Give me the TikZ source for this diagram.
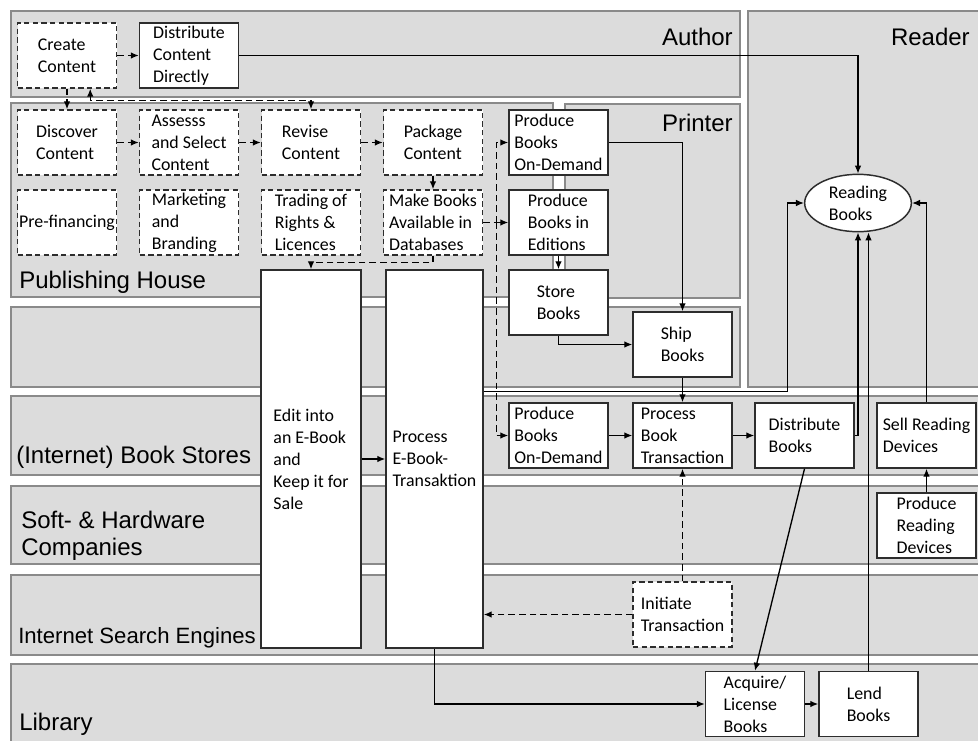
\documentclass[tikz,border=0pt]{standalone}
\usepackage{fontspec}
\setmainfont{Carlito}
\newfontfamily\lanefont{Liberation Sans}
\usetikzlibrary{arrows.meta,calc,shapes.geometric}

\definecolor{lanefill}{RGB}{220,220,220}
\definecolor{laneline}{RGB}{138,138,138}
\definecolor{boxline}{RGB}{45,45,45}

\tikzset{
  lane/.style={draw=laneline,fill=lanefill,line width=2.2pt},
  lanelbl/.style={font=\lanefont\fontsize{18}{20.5}\selectfont,inner sep=0pt,align=left},
  act/.style={draw=boxline,fill=white,line width=1.1pt,minimum width=74.25pt,minimum height=48.75pt,
    align=left,inner sep=1pt,font=\fontsize{13.4}{16.5}\selectfont},
  actd/.style={act,dash pattern=on 4pt off 2.5pt},
  flow/.style={->,line width=1pt},
  dflow/.style={flow,dash pattern=on 5pt off 3pt},
}

\begin{document}
\begin{tikzpicture}[x=0.75pt,y=-0.75pt,>={Latex[length=6pt,width=5pt]}]
  \useasboundingbox (0,0) rectangle (978,740);
  % lanes
  \draw[lane] (11,11) rectangle (740,97);
  \draw[lane] (748,11) rectangle (985,387);
  \draw[lane] (11,103) rectangle (553,297);
  \draw[lane] (565,104) rectangle (740,298);
  \draw[lane] (11,307) rectangle (740,387);
  \foreach \ya/\yb in {396/475,486/564,575/655,664/750} \draw[lane] (11,\ya) rectangle (985,\yb);
  \node[lanelbl,anchor=east] (lauthor) at (733,37) {Author};
  \node[lanelbl,anchor=east] (lreader) at (970,37) {Reader};
  \node[lanelbl,anchor=east] (lprinter) at (733,123) {Printer};
  \node[lanelbl,anchor=west] (lpublisher) at (19,282) {Publishing House};
  \node[lanelbl,anchor=west] (lstores) at (16,457) {(Internet) Book Stores};
  \node[lanelbl,anchor=west] (lsoft) at (21,536) {Soft- \& Hardware\\Companies};
  \node[lanelbl,anchor=west,font=\lanefont\fontsize{16.6}{20}\selectfont] (lsearch) at (18,638) {Internet Search Engines};
  \node[lanelbl,anchor=west] (llibrary) at (19,724) {Library};

  % activities
  \node[actd] (cc) at (67,55.5) {Create\\Content};
  \node[act] (dcd) at (189,55.5) {Distribute\\Content\\Directly};
  \node[actd] (dc) at (67,142.5) {Discover\\Content};
  \node[actd] (asc) at (189,142.5) {Assesss\\and Select\\Content};
  \node[actd] (rc) at (311,142.5) {Revise\\Content};
  \node[actd] (pc) at (433,142.5) {Package\\Content};
  \node[actd] (pf) at (67,222.5) {Pre-financing};
  \node[actd] (mb) at (189,222.5) {Marketing\\and\\Branding};
  \node[actd] (tr) at (311,222.5) {Trading of\\Rights \&\\Licences};
  \node[actd] (mba) at (433,222.5) {Make Books\\Available in\\Databases};
  \node[act,minimum width=75pt,minimum height=283.5pt] (eeb) at (311,459) {Edit into\\an E-Book\\and\\Keep it for\\Sale};
  \node[act,minimum width=72.75pt,minimum height=283.5pt] (peb) at (434.5,459) {Process\\E-Book-\\Transaktion};
  \node[act] (pod) at (558.5,142.5) {Produce\\Books\\On-Demand};
  \node[act] (pbe) at (558.5,222.5) {Produce\\Books in\\Editions};
  \node[act] (stb) at (558.5,302.5) {Store\\Books};
  \node[act] (sb) at (682.5,344.5) {Ship\\Books};
  \node[act] (pos) at (558.5,435.5) {Produce\\Books\\On-Demand};
  \node[act] (pbt) at (682.5,435.5) {Process\\Book\\Transaction};
  \node[act] (dbk) at (804.5,435.5) {Distribute\\Books};
  \node[act] (srd) at (926.5,435.5) {Sell Reading\\Devices};
  \node[act] (prd) at (926.5,525.5) {Produce\\Reading\\Devices};
  \node[actd] (it) at (682.5,614.5) {Initiate\\Transaction};
  \node[act] (alb) at (755,704) {Acquire/\\License\\Books};
  \node[act] (lb) at (868.5,704) {Lend\\Books};
  \node[act,ellipse,minimum width=80pt,minimum height=43pt] (rb) at (858,203) {Reading\\Books};

  % flows
  \draw[dflow] (cc) -- (dcd);
  \draw[flow] (dcd.east) -| (rb.north);
  \draw[dflow] (cc.south) -- (dc.north);
  \draw[dflow,<->] ($(cc.south east)+(-27,0)$) -- ++(0,12) -| (rc.north);
  \draw[dflow] (dc) -- (asc);
  \draw[dflow] (asc) -- (rc);
  \draw[dflow] (rc) -- (pc);
  \draw[dflow] (pc) -- (mba);
  \draw[dflow] (mba.south) -- ++(0,7) -| (eeb.north);
  \draw[dflow] (mba.east) -- (pbe.west);
  \coordinate (split) at ($(mba.east)+(13,0)$);
  \draw[dflow] (split) |- (pod.west);
  \draw[dflow] (split) |- (pos.west);
  \draw[flow] (pod.east) -| (sb.north);
  \draw[flow] (pbe) -- (stb);
  \draw[flow] (stb.south) |- (sb.west);
  \draw[flow] (sb) -- (pbt);
  \draw[flow] (eeb.east) -- (peb.west);
  \draw[flow] ($(peb.north east)+(0,122)$) -- ++(304,0) |- (rb.west);
  \draw[flow] (peb.south) |- (alb.west);
  \draw[flow] (pos) -- (pbt);
  \draw[flow] (pbt) -- (dbk);
  \draw[flow] (dbk.east) -| (rb.south);
  \draw[flow] (dbk.south) -- (alb.north);
  \draw[flow] (alb) -- (lb);
  \draw[flow] (lb.north) -- (lb.north |- rb.south);
  \draw[flow] (prd) -- (srd);
  \draw[flow] (srd.north) |- (rb.east);
  \draw[dflow] (it) -- (pbt);
  \draw[dflow] (it.west) -- (it.west -| peb.east);
\end{tikzpicture}
\end{document}
